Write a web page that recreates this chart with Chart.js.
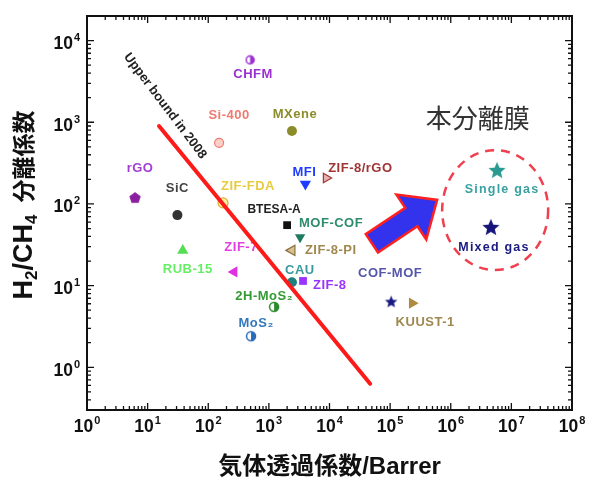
<!DOCTYPE html>
<html>
<head>
<meta charset="utf-8">
<script src="https://cdn.jsdelivr.net/npm/chart.js@4.4.1/dist/chart.umd.min.js"></script>
<style>
  html, body { margin: 0; padding: 0; background: #fff; }
  #chart { display: block; }
</style>
</head>
<body>
<canvas id="chart" width="589" height="484"></canvas>
<script>
// Reported membranes (permeability in Barrer, H2/CH4 selectivity)
const materials = ['CHFM', 'Si-400', 'MXene', 'rGO', 'SiC', 'ZIF-FDA', 'BTESA-A', 'MOF-COF', 'ZIF-8-PI',
    'MFI', 'ZIF-8/rGO', 'ZIF-7', 'RUB-15', 'CAU', 'ZIF-8', '2H-MoS₂', 'MoS₂', 'COF-MOF', 'KUUST-1'];
const permeability = [490, 151, 2400, 6.2, 31, 175, 2000, 3270, 2400,
    4000, 8800, 267, 38, 2400, 3660, 1220, 508, 104000, 231000];
const selectivity = [5800, 560, 780, 118, 73, 103, 55, 39, 27,
    176, 208, 14.7, 27, 11, 11.4, 5.5, 2.4, 6.3, 6.1];

// This work
const thisWork = ['Single gas', 'Mixed gas'];
const thisWorkPermeability = [5.8e6, 4.6e6];
const thisWorkSelectivity = [254, 51];

// Robeson upper bound (2008), end points
const boundPermeability = [15.4, 46800];
const boundSelectivity = [900, 0.63];

// Axis ticks (base^exponent)
const xTickValues = [1, 10, 100, 1e3, 1e4, 1e5, 1e6, 1e7, 1e8];
const xTickLabels = ['10^0', '10^1', '10^2', '10^3', '10^4', '10^5', '10^6', '10^7', '10^8'];
const yTickValues = [1, 10, 100, 1e3, 1e4];
const yTickLabels = ['10^0', '10^1', '10^2', '10^3', '10^4'];

const FONT = "'Liberation Sans', 'Noto Sans CJK JP', sans-serif";
const CJK = "'Noto Sans CJK JP', sans-serif";

// ---- marker images ----
function makeCanvas(size) {
    const c = document.createElement('canvas');
    c.width = c.height = size;
    return c;
}

function halfCircle(color, r) {
    const s = Math.ceil(r * 2 + 3);
    const c = makeCanvas(s);
    const g = c.getContext('2d');
    g.lineWidth = 1.5;
    g.strokeStyle = color;
    g.fillStyle = '#fff';
    g.beginPath(); g.arc(s / 2, s / 2, r, 0, Math.PI * 2); g.fill(); g.stroke();
    g.fillStyle = color;
    g.beginPath(); g.arc(s / 2, s / 2, r, -Math.PI / 2, Math.PI / 2); g.closePath(); g.fill();
    return c;
}

function polygon(color, r, n, inner) {
    const s = Math.ceil(r * 2 + 2);
    const c = makeCanvas(s);
    const g = c.getContext('2d');
    const pts = inner ? n * 2 : n;
    g.fillStyle = color;
    g.beginPath();
    for (let k = 0; k < pts; k++) {
        const ang = -Math.PI / 2 + k * Math.PI * 2 / pts;
        const rr = inner && k % 2 ? r * inner : r;
        const px = s / 2 + Math.cos(ang) * rr, py = s / 2 + Math.sin(ang) * rr;
        k ? g.lineTo(px, py) : g.moveTo(px, py);
    }
    g.closePath();
    g.fill();
    return c;
}

// style for each material, same order as materials
const styles = [
    { color: '#9b30d0', point: halfCircle('#9b30d0', 4), dx: 3, dy: 15 },
    { color: '#f07a70', point: 'circle', r: 4.5, fill: '#ffd0c8', border: '#f07a70', dx: 10, dy: -27 },
    { color: '#8c8c2a', point: 'circle', r: 5, fill: '#8c8c2a', dx: 3, dy: -17 },
    { color: '#a23fd0', point: polygon('#8a20a0', 6, 5), dx: 5, dy: -30 },
    { color: '#444444', point: 'circle', r: 5, fill: '#333333', dx: 0, dy: -27 },
    { color: '#e8cc40', point: 'circle', r: 5, fill: '#fff2a0', border: '#e8a830', dx: 25, dy: -16 },
    { color: '#222222', point: 'rect', r: 5.5, fill: '#111111', dx: -13, dy: -15, font: 'bold 12px ' + FONT, spacing: '0px' },
    { color: '#2e8b6b', point: 'triangle', rot: 180, r: 6, fill: '#1f7a62', dx: 31, dy: -14 },
    { color: '#a08850', point: 'triangle', rot: -90, r: 6, fill: '#d8c090', border: '#8a7040', dx: 13, dy: 0, left: true },
    { color: '#1e3cff', point: 'triangle', rot: 180, r: 6.5, fill: '#1e3cff', dx: -1, dy: -11 },
    { color: '#a03535', point: 'triangle', rot: 90, r: 5.5, fill: '#e8b0b0', border: '#a03535', dx: 2, dy: -10, left: true },
    { color: '#e040e0', point: 'triangle', rot: -90, r: 6.5, fill: '#e030e0', dx: 7, dy: -25 },
    { color: '#66ee66', point: 'triangle', r: 6.5, fill: '#55dd55', dx: 5, dy: 19 },
    { color: '#3a9a9a', point: 'circle', r: 5, fill: '#208080', dx: 8, dy: -12 },
    { color: '#9933ff', point: 'rect', r: 5.5, fill: '#9933ff', dx: 10, dy: 4, left: true },
    { color: '#339933', point: halfCircle('#2a8a2a', 4.5), dx: -10, dy: -10 },
    { color: '#3377bb', point: halfCircle('#2a6ab8', 4.5), dx: 5, dy: -13 },
    { color: '#5555aa', point: polygon('#1a1a80', 6.5, 5, 0.45), dx: -1, dy: -29 },
    { color: '#a08850', point: 'triangle', rot: 90, r: 6.5, fill: '#b08a40', dx: 13, dy: 19 }
];

const thisWorkStyles = [
    { color: '#3aa0a0', point: polygon('#2a9a90', 9, 5, 0.45), dx: 5, dy: 19 },
    { color: '#1a1a80', point: polygon('#14147a', 9, 5, 0.45), dx: 3, dy: 20 }
];

// ---- datasets ----
const datasets = [];
datasets.push({
    data: boundPermeability.map((x, i) => ({ x: x, y: boundSelectivity[i] })),
    showLine: true,
    borderColor: '#ff1a1a',
    borderWidth: 4,
    pointRadius: 0,
    borderCapStyle: 'round'
});
materials.forEach((name, i) => {
    const st = styles[i];
    datasets.push({
        data: [{ x: permeability[i], y: selectivity[i] }],
        pointStyle: st.point,
        pointRotation: st.rot || 0,
        pointRadius: st.r || 5,
        backgroundColor: st.fill || st.color,
        borderColor: st.border || st.fill || st.color,
        borderWidth: st.border ? 1.2 : 0,
        labelText: name,
        labelColor: st.color,
        labelDx: st.dx,
        labelDy: st.dy,
        labelAlign: st.left ? 'left' : 'center',
        labelFont: st.font,
        labelSpacing: st.spacing
    });
});
thisWork.forEach((name, i) => {
    const st = thisWorkStyles[i];
    datasets.push({
        data: [{ x: thisWorkPermeability[i], y: thisWorkSelectivity[i] }],
        pointStyle: st.point,
        pointRadius: 9,
        labelText: name,
        labelColor: st.color,
        labelDx: st.dx,
        labelDy: st.dy,
        labelAlign: 'center',
        labelFont: 'bold 12.5px ' + FONT,
        labelSpacing: '1.2px'
    });
});

// ---- plugins ----
const pointLabels = {
    id: 'pointLabels',
    beforeDatasetsDraw(chart) {
        const ctx = chart.ctx;
        chart.data.datasets.forEach((ds, i) => {
            if (!ds.labelText) return;
            const pt = chart.getDatasetMeta(i).data[0];
            ctx.save();
            ctx.font = ds.labelFont || 'bold 13px ' + FONT;
            ctx.letterSpacing = ds.labelSpacing || '0.5px';
            ctx.fillStyle = ds.labelColor;
            ctx.textAlign = ds.labelAlign;
            ctx.textBaseline = 'middle';
            ctx.fillText(ds.labelText, pt.x + ds.labelDx, pt.y + ds.labelDy);
            ctx.restore();
        });
    }
};

const annotations = {
    id: 'annotations',
    afterDatasetsDraw(chart) {
        const ctx = chart.ctx;
        const xs = chart.scales.x, ys = chart.scales.y;
        const px = v => xs.getPixelForValue(v), py = v => ys.getPixelForValue(v);

        // upper bound caption
        ctx.save();
        ctx.translate(px(19.4), py(1585));
        ctx.rotate(53 * Math.PI / 180);
        ctx.font = 'bold 13px ' + FONT;
        ctx.fillStyle = '#222';
        ctx.textAlign = 'center';
        ctx.textBaseline = 'middle';
        ctx.fillText('Upper bound in 2008', 0, 0);
        ctx.restore();

        // arrow pointing to this work
        const tx = px(5.0e4), ty = py(33), hx = px(5.97e5), hy = py(112);
        const len = Math.hypot(hx - tx, hy - ty);
        ctx.save();
        ctx.translate(tx, ty);
        ctx.rotate(Math.atan2(hy - ty, hx - tx));
        const shaft = 11, head = 27, headLen = 31;
        ctx.beginPath();
        ctx.moveTo(0, -shaft);
        ctx.lineTo(len - headLen, -shaft);
        ctx.lineTo(len - headLen, -head);
        ctx.lineTo(len, 0);
        ctx.lineTo(len - headLen, head);
        ctx.lineTo(len - headLen, shaft);
        ctx.lineTo(0, shaft);
        ctx.closePath();
        ctx.fillStyle = '#3333ee';
        ctx.fill();
        ctx.lineWidth = 2.5;
        ctx.strokeStyle = '#ff2020';
        ctx.lineJoin = 'miter';
        ctx.stroke();
        ctx.restore();

        // dashed ring round this work
        ctx.save();
        ctx.beginPath();
        ctx.ellipse(px(5.4e6), py(84), 53, 60, 0, 0, Math.PI * 2);
        ctx.setLineDash([9, 7]);
        ctx.lineWidth = 2.5;
        ctx.strokeStyle = '#f04050';
        ctx.stroke();
        ctx.restore();

        // caption
        ctx.save();
        ctx.font = '26px ' + CJK;
        ctx.fillStyle = '#333';
        ctx.textAlign = 'center';
        ctx.textBaseline = 'middle';
        ctx.fillText('本分離膜', px(2.8e6), py(1130));
        ctx.restore();
    }
};

// draw "10" with a raised exponent; align = 'center' or 'right'
function powerLabel(ctx, label, x, y, align) {
    const parts = label.split('^');
    ctx.font = 'bold 17.5px ' + FONT;
    const w1 = ctx.measureText(parts[0]).width;
    ctx.font = 'bold 11px ' + FONT;
    const w2 = ctx.measureText(parts[1]).width;
    const x0 = align === 'right' ? x - w1 - w2 - 1 : x - (w1 + w2 + 1) / 2;
    ctx.textAlign = 'left';
    ctx.textBaseline = 'alphabetic';
    ctx.font = 'bold 17.5px ' + FONT;
    ctx.fillText(parts[0], x0, y);
    ctx.font = 'bold 11px ' + FONT;
    ctx.fillText(parts[1], x0 + w1 + 1, y - 8);
}

// frame with inward major/minor ticks on all four sides, tick labels and y title
const frame = {
    id: 'frame',
    afterDraw(chart) {
        const ctx = chart.ctx;
        const a = chart.chartArea;
        const xs = chart.scales.x, ys = chart.scales.y;
        ctx.save();
        ctx.strokeStyle = '#111';
        ctx.lineWidth = 1.3;
        ctx.beginPath();
        for (let e = 0; e <= 8; e++) {
            for (let m = 1; m <= 9; m++) {
                const v = m * Math.pow(10, e);
                if (v > xs.max) break;
                const x = xs.getPixelForValue(v);
                const l = m === 1 ? 7 : 4;
                ctx.moveTo(x, a.bottom); ctx.lineTo(x, a.bottom - l);
                ctx.moveTo(x, a.top); ctx.lineTo(x, a.top + l);
            }
        }
        for (let e = -1; e <= 4; e++) {
            for (let m = 1; m <= 9; m++) {
                const v = m * Math.pow(10, e);
                if (v < ys.min || v > ys.max) continue;
                const y = ys.getPixelForValue(v);
                const l = m === 1 ? 7 : 4;
                ctx.moveTo(a.left, y); ctx.lineTo(a.left + l, y);
                ctx.moveTo(a.right, y); ctx.lineTo(a.right - l, y);
            }
        }
        ctx.stroke();
        ctx.lineWidth = 2;
        ctx.strokeRect(a.left, a.top, a.right - a.left, a.bottom - a.top);

        // tick labels
        ctx.fillStyle = '#111';
        xTickValues.forEach((v, i) => {
            powerLabel(ctx, xTickLabels[i], xs.getPixelForValue(v), a.bottom + 22, 'center');
        });
        yTickValues.forEach((v, i) => {
            powerLabel(ctx, yTickLabels[i], a.left - 7, ys.getPixelForValue(v) + 8.5, 'right');
        });

        // y axis title, rotated, with subscripts
        const runs = [
            { t: 'H', f: 'bold 27px ' + FONT, dy: 0 },
            { t: '2', f: 'bold 17px ' + FONT, dy: 5 },
            { t: '/CH', f: 'bold 27px ' + FONT, dy: 0 },
            { t: '4', f: 'bold 17px ' + FONT, dy: 5 },
            { t: '分離係数', f: 'bold 23px ' + CJK, dy: 0, gap: 12 }
        ];
        let total = 0;
        runs.forEach(r => { ctx.font = r.f; r.w = ctx.measureText(r.t).width; total += r.w + (r.gap || 0); });
        ctx.translate(22, 205);
        ctx.rotate(-Math.PI / 2);
        ctx.textAlign = 'left';
        ctx.textBaseline = 'alphabetic';
        let cx = -total / 2;
        runs.forEach(r => {
            cx += r.gap || 0;
            ctx.font = r.f;
            ctx.fillText(r.t, cx, 9.5 + r.dy);
            cx += r.w;
        });
        ctx.restore();
    }
};

new Chart(document.getElementById('chart'), {
    type: 'scatter',
    data: { datasets: datasets },
    options: {
        responsive: false,
        animation: false,
        devicePixelRatio: 1,
        layout: { padding: { top: 16, right: 17, left: 0, bottom: 0 } },
        plugins: {
            legend: { display: false },
            tooltip: { enabled: false }
        },
        scales: {
            x: {
                type: 'logarithmic',
                min: 1,
                max: 1e8,
                grid: { display: false },
                border: { display: false },
                ticks: { display: false },
                afterFit: s => { s.height = 74; },
                title: {
                    display: true,
                    text: '気体透過係数/Barrer',
                    color: '#111',
                    padding: 2,
                    font: { family: FONT, size: 24, weight: 'bold' }
                }
            },
            y: {
                type: 'logarithmic',
                min: 0.3,
                max: 2e4,
                grid: { display: false },
                border: { display: false },
                ticks: { display: false },
                afterFit: s => { s.width = 87; }
            }
        }
    },
    plugins: [pointLabels, annotations, frame]
});
</script>
</body>
</html>
